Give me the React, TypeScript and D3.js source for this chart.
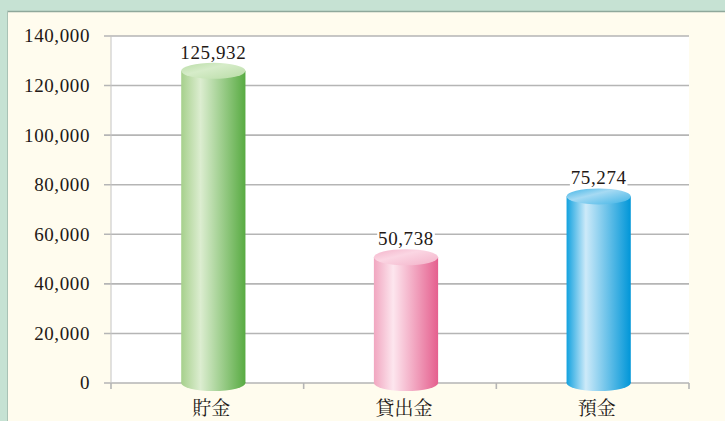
import * as d3 from "d3";

const categories = ["貯金", "貸出金", "預金"];
const values = [125932, 50738, 75274];
const yTicks = [0, 20000, 40000, 60000, 80000, 100000, 120000, 140000];

// left / highlight / right / top colours for each cylinder
const palettes = [
  { left: "#a6d08c", light: "#dcedd0", right: "#58ab42", top: "#b9dca6", topLight: "#d6ecc9" },
  { left: "#f1a6c0", light: "#fde6ee", right: "#e55f8e", top: "#f3b2c9", topLight: "#fbd6e3" },
  { left: "#12a2df", light: "#cdeaf9", right: "#0096d8", top: "#3db3e6", topLight: "#a6daf3" },
];

const W = 725;
const H = 421;
const plot = { left: 111, right: 689, top: 36, bottom: 383 };
const numFont = "'Liberation Serif', 'DejaVu Serif', serif";
const cjkFont = "'Noto Serif CJK JP', 'Noto Sans CJK JP', serif";

export default function App() {
  const x = d3.scaleBand<string>().domain(categories).range([plot.left, plot.right]).padding(0);
  const y = d3.scaleLinear().domain([0, 140000]).range([plot.bottom, plot.top]);
  const fmt = d3.format(",");
  const barW = x.bandwidth() / 3;
  const shift = 6;
  const ry = 8;
  const tickEdges = [...categories.map((c) => x(c)!), plot.right];

  return (
    <svg width={W} height={H} style={{ position: "fixed", left: 0, top: 0 }}>
      <defs>
        {palettes.map((p, i) => (
          <g key={i}>
            <linearGradient id={`side${i}`} x1="0" x2="1" y1="0" y2="0">
              <stop offset="0%" stopColor={p.left} />
              <stop offset="30%" stopColor={p.light} />
              <stop offset="100%" stopColor={p.right} />
            </linearGradient>
            <linearGradient id={`top${i}`} x1="0" x2="1" y1="0" y2="1">
              <stop offset="0%" stopColor={p.top} />
              <stop offset="40%" stopColor={p.topLight} />
              <stop offset="100%" stopColor={p.top} />
            </linearGradient>
          </g>
        ))}
      </defs>

      <rect x={0} y={0} width={W} height={H} fill="#c6e2d3" />
      <rect x={7} y={11} width={W - 7} height={H - 11} fill="#fffcee" />
      <line x1={7} x2={W} y1={11.5} y2={11.5} stroke="#8fa89b" strokeWidth={1.5} />
      <line x1={7.5} x2={7.5} y1={11} y2={H} stroke="#a9c2b5" strokeWidth={1} />

      <rect x={plot.left} y={plot.top} width={plot.right - plot.left} height={plot.bottom - plot.top} fill="#ffffff" />

      {yTicks.map((t) => (
        <g key={t}>
          <line x1={plot.left - 7} x2={plot.right} y1={y(t)} y2={y(t)} stroke="#b5b5b5" strokeWidth={1.6} />
          <text
            x={90}
            y={y(t)}
            dy="0.34em"
            textAnchor="end"
            fontFamily={numFont}
            fontSize={19}
            letterSpacing={0.6}
            fill="#231815"
          >
            {fmt(t)}
          </text>
        </g>
      ))}
      <line x1={plot.left} x2={plot.left} y1={plot.top} y2={plot.bottom} stroke="#c4c4c4" strokeWidth={1} />
      {tickEdges.map((e, i) => (
        <line key={i} x1={e} x2={e} y1={plot.bottom} y2={plot.bottom + 6} stroke="#b5b5b5" strokeWidth={1.6} />
      ))}

      {categories.map((c, i) => {
        const cx = x(c)! + x.bandwidth() / 2 + shift;
        const yt = y(values[i]);
        const y0 = y(0);
        const label = fmt(values[i]);
        const lw = label.length * 9.6;
        return (
          <g key={c}>
            <ellipse cx={cx} cy={y0} rx={barW / 2} ry={ry} fill={`url(#side${i})`} />
            <rect x={cx - barW / 2} y={yt} width={barW} height={y0 - yt} fill={`url(#side${i})`} />
            <ellipse cx={cx} cy={yt} rx={barW / 2} ry={ry} fill={`url(#top${i})`} />
            <rect x={cx - lw / 2} y={yt - ry - 19} width={lw} height={17} fill="#ffffff" />
            <text
              x={cx}
              y={yt - ry - 4}
              textAnchor="middle"
              fontFamily={numFont}
              fontSize={19}
              letterSpacing={0.6}
              fill="#231815"
            >
              {label}
            </text>
            <text
              x={cx - 2}
              y={415}
              textAnchor="middle"
              fontFamily={cjkFont}
              fontSize={19}
              fill="#231815"
            >
              {c}
            </text>
          </g>
        );
      })}
    </svg>
  );
}
